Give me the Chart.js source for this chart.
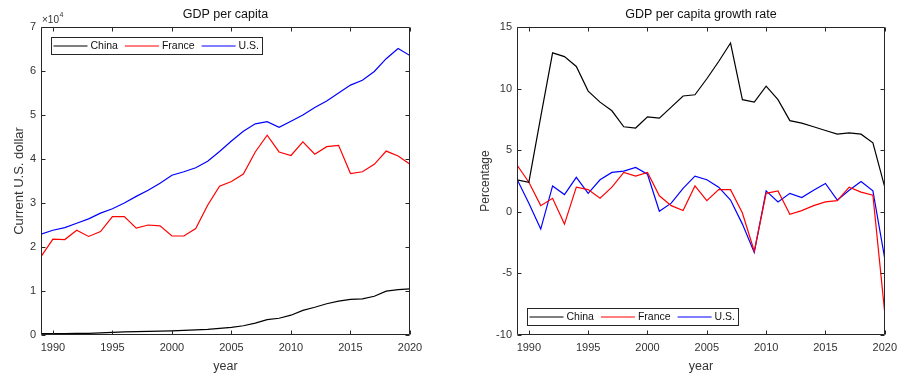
<!DOCTYPE html>
<html>
<head>
<meta charset="utf-8">
<script src="https://cdn.jsdelivr.net/npm/chart.js@4.4.1/dist/chart.umd.min.js"></script>
<style>
  body { margin: 0; background: #fff; }
  #wrap { position: relative; width: 903px; height: 378px; }
  .box { position: absolute; top: 0; height: 378px; }
</style>
</head>
<body>
<div id="wrap">
  <div class="box" style="left:0;width:450px"><canvas id="levels"></canvas></div>
  <div class="box" style="left:450px;width:453px"><canvas id="growth"></canvas></div>
</div>
<script>
// data
const years = [1989, 1990, 1991, 1992, 1993, 1994, 1995, 1996, 1997, 1998, 1999, 2000, 2001, 2002, 2003, 2004,
               2005, 2006, 2007, 2008, 2009, 2010, 2011, 2012, 2013, 2014, 2015, 2016, 2017, 2018, 2019, 2020];

// GDP per capita, current US$
const chinaGdp = [310, 320, 330, 370, 380, 470, 610, 710, 780, 830, 870, 960, 1050, 1150, 1290, 1510,
                  1750, 2100, 2700, 3500, 3800, 4500, 5600, 6300, 7100, 7700, 8100, 8200, 8800, 9980, 10300, 10500];
const franceGdp = [17800, 21800, 21700, 23800, 22400, 23500, 26900, 26900, 24300, 25000, 24800, 22500, 22500, 24200, 29500, 33800,
                   34900, 36600, 41600, 45400, 41600, 40800, 43900, 41100, 42800, 43100, 36700, 37100, 38800, 41800, 40700, 38800];
const usGdp = [22900, 23800, 24400, 25400, 26400, 27700, 28700, 30000, 31500, 32900, 34500, 36300, 37100, 38000, 39500, 41700,
               44100, 46300, 48000, 48500, 47200, 48600, 50000, 51700, 53200, 55000, 56800, 57900, 59900, 62800, 65100, 63500];

// GDP per capita growth, %
const chinaGrowth = [2.6, 2.4, 7.7, 12.9, 12.6, 11.8, 9.8, 8.9, 8.2, 6.9, 6.8, 7.7, 7.6, 8.5, 9.4, 9.5,
                     10.8, 12.2, 13.7, 9.1, 8.9, 10.2, 9.1, 7.4, 7.2, 6.9, 6.6, 6.3, 6.4, 6.3, 5.6, 2.0];
const franceGrowth = [3.8, 2.4, 0.5, 1.1, -1.0, 2.0, 1.8, 1.1, 2.0, 3.2, 2.9, 3.2, 1.3, 0.5, 0.1, 2.1,
                      0.9, 1.8, 1.8, -0.1, -3.2, 1.5, 1.7, -0.2, 0.1, 0.5, 0.8, 0.9, 2.0, 1.6, 1.35, -8.2];
const usGrowth = [2.65, 0.7, -1.4, 2.1, 1.4, 2.8, 1.5, 2.6, 3.2, 3.3, 3.6, 3.05, 0.05, 0.7, 1.9, 2.9,
                  2.6, 2.0, 0.95, -1.0, -3.3, 1.7, 0.8, 1.5, 1.15, 1.75, 2.3, 0.95, 1.75, 2.45, 1.7, -3.8];

const yearTicks = [1990, 1995, 2000, 2005, 2010, 2015, 2020];
const gdpTicks = [0, 10000, 20000, 30000, 40000, 50000, 60000, 70000];
const growthTicks = [-10, -5, 0, 5, 10, 15];

const FONT = '"Liberation Sans", Arial, sans-serif';
const AXIS_COLOR = '#262626';
const TEXT_COLOR = '#333333';
const TICK = 4;

// MATLAB-like box, inward ticks, title, exponent and legend
const matlabAxes = {
  id: 'matlabAxes',
  afterDraw(chart, args, opts) {
    const ctx = chart.ctx;
    const a = chart.chartArea;
    const xs = chart.scales.x, ys = chart.scales.y;
    ctx.save();
    ctx.strokeStyle = AXIS_COLOR;
    ctx.lineWidth = 1;
    const L = Math.round(a.left) + 0.5, R = Math.round(a.right) - 0.5;
    const T = Math.round(a.top) + 0.5, B = Math.round(a.bottom) - 0.5;
    ctx.beginPath();
    ctx.rect(L, T, R - L, B - T);
    xs.ticks.forEach(t => {
      const x = Math.round(xs.getPixelForValue(t.value)) + 0.5;
      ctx.moveTo(x, B); ctx.lineTo(x, B - TICK);
      ctx.moveTo(x, T); ctx.lineTo(x, T + TICK);
    });
    ys.ticks.forEach(t => {
      const y = Math.round(ys.getPixelForValue(t.value)) + 0.5;
      ctx.moveTo(L, y); ctx.lineTo(L + TICK, y);
      ctx.moveTo(R, y); ctx.lineTo(R - TICK, y);
    });
    ctx.stroke();

    // title
    ctx.fillStyle = '#111';
    ctx.font = '12.5px ' + FONT;
    ctx.textAlign = 'center';
    ctx.textBaseline = 'middle';
    ctx.fillText(opts.title, (a.left + a.right) / 2, 15);

    // exponent label
    if (opts.exponent) {
      ctx.fillStyle = TEXT_COLOR;
      ctx.textAlign = 'left';
      ctx.font = '10px ' + FONT;
      const base = '\u00d710';
      ctx.fillText(base, a.left + 1, 20);
      const bw = ctx.measureText(base).width;
      ctx.font = '7px ' + FONT;
      ctx.fillText(opts.exponent, a.left + 1 + bw + 0.5, 15);
    }

    // legend
    ctx.font = '10.5px ' + FONT;
    ctx.textAlign = 'left';
    const sets = chart.data.datasets;
    const lineLen = 34;
    let w = 2;
    sets.forEach((d, i) => {
      w += lineLen + 3 + ctx.measureText(d.label).width + (i < sets.length - 1 ? 7 : 3);
    });
    const h = 17;
    const bx = Math.round(a.left + 10) + 0.5;
    const by = Math.round(opts.legend === 'top' ? a.top + 10 : a.bottom - 10 - h) + 0.5;
    ctx.fillStyle = '#fff';
    ctx.fillRect(bx, by, Math.round(w), h);
    ctx.strokeStyle = AXIS_COLOR;
    ctx.strokeRect(bx, by, Math.round(w), h);
    let x = bx + 2;
    const cy = by + h / 2;
    sets.forEach(d => {
      ctx.strokeStyle = d.borderColor;
      ctx.lineWidth = d.borderWidth;
      ctx.beginPath();
      ctx.moveTo(x, cy); ctx.lineTo(x + lineLen, cy);
      ctx.stroke();
      x += lineLen + 3;
      ctx.fillStyle = '#111';
      ctx.fillText(d.label, x, cy);
      x += ctx.measureText(d.label).width + 7;
    });
    ctx.restore();
  }
};

function makeChart(id, series, yTicks, yMin, yMax, yTitle, yTitleSize, yWidth, rightPad, titlePad, pluginOpts, tickFmt) {
  const colors = ['#000000', '#ff0000', '#0000ff'];
  const labels = ['China', 'France', 'U.S.'];
  return new Chart(document.getElementById(id), {
    type: 'line',
    data: {
      datasets: series.map((s, i) => ({
        label: labels[i],
        data: years.map((yr, k) => ({ x: yr, y: s[k] })),
        borderColor: colors[i],
        borderWidth: 1.2,
        pointRadius: 0,
        tension: 0,
        fill: false
      }))
    },
    options: {
      responsive: true,
      maintainAspectRatio: false,
      animation: false,
      layout: { padding: { top: 27, right: rightPad, bottom: 0, left: 0 } },
      plugins: {
        legend: { display: false },
        tooltip: { enabled: false },
        matlabAxes: pluginOpts
      },
      scales: {
        x: {
          type: 'linear',
          min: 1989,
          max: 2020,
          grid: { display: false, drawTicks: false },
          border: { display: false },
          afterBuildTicks: s => { s.ticks = yearTicks.map(v => ({ value: v })); },
          afterFit: s => { s.height = 43; },
          ticks: { color: TEXT_COLOR, font: { family: FONT, size: 11 }, padding: 6, maxRotation: 0,
                   callback: v => String(v) },
          title: { display: true, text: 'year', color: TEXT_COLOR, font: { family: FONT, size: 12.5 },
                   padding: { top: 0, bottom: 4 } }
        },
        y: {
          min: yMin,
          max: yMax,
          grid: { display: false, drawTicks: false },
          border: { display: false },
          afterBuildTicks: s => { s.ticks = yTicks.map(v => ({ value: v })); },
          afterFit: s => { s.width = yWidth; },
          ticks: { color: TEXT_COLOR, font: { family: FONT, size: 11 }, padding: 5, callback: tickFmt },
          title: { display: true, text: yTitle, color: TEXT_COLOR, font: { family: FONT, size: yTitleSize },
                   padding: { top: titlePad, bottom: 0 } }
        }
      }
    },
    plugins: [matlabAxes]
  });
}

makeChart('levels', [chinaGdp, franceGdp, usGdp], gdpTicks, 0, 70000, 'Current U.S. dollar', 13, 41, 40, 12,
  { title: 'GDP per capita', exponent: '4', legend: 'top' }, v => String(v / 10000));

makeChart('growth', [chinaGrowth, franceGrowth, usGrowth], growthTicks, -10, 15, 'Percentage', 12, 67, 16, 28,
  { title: 'GDP per capita growth rate', legend: 'bottom' }, v => String(v));
</script>
</body>
</html>
